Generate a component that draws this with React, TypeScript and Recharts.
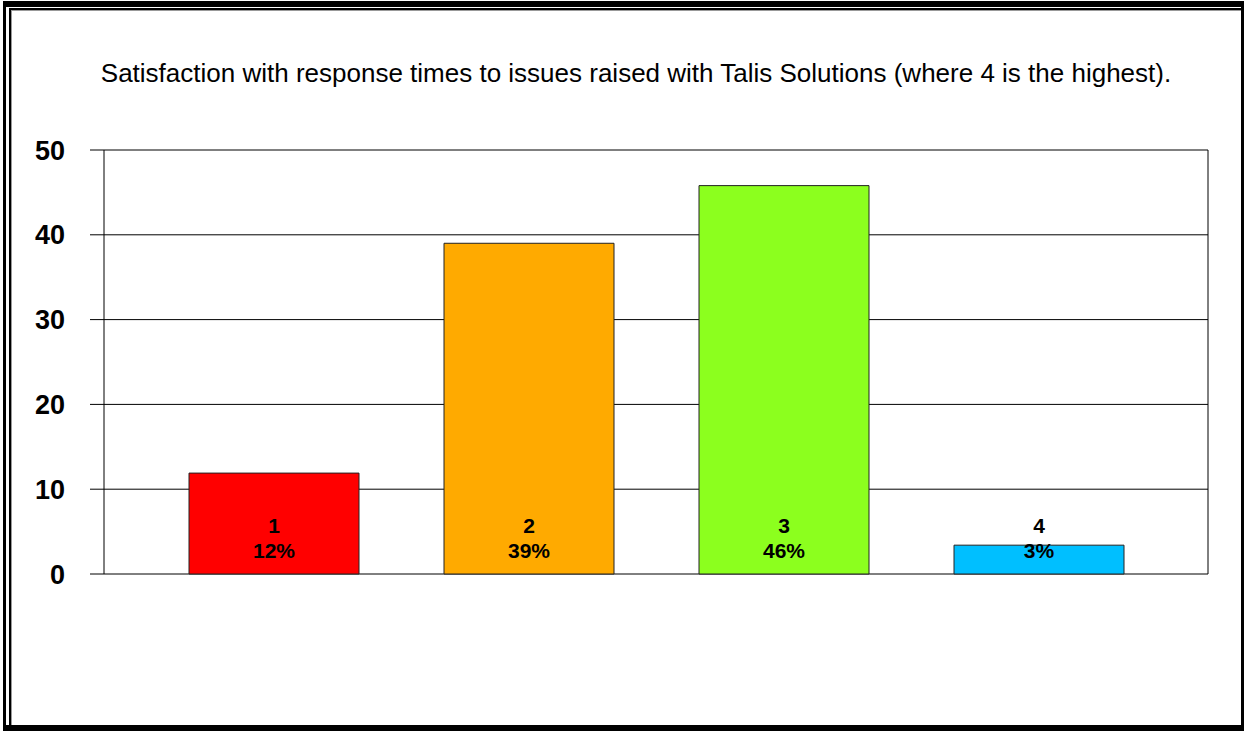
import { Bar, BarChart, CartesianGrid, Cell, LabelList, XAxis, YAxis } from "recharts";

const categories = ["1", "2", "3", "4"];
const responses = [11.9, 39, 45.8, 3.4];
const percents = ["12%", "39%", "46%", "3%"];
const barColors = ["#ff0000", "#ffaa00", "#8cff1e", "#00bfff"];
const yTicks = [0, 10, 20, 30, 40, 50];

const title =
  "Satisfaction with response times to issues raised with Talis Solutions (where 4 is the highest).";

const font = "Arial, 'Liberation Sans', sans-serif";

const data = categories.map((cat, i) => ({
  cat,
  value: responses[i],
  pct: percents[i],
}));

function BarLabel(props: any) {
  const { x, y, width, height, index } = props;
  const cx = Number(x) + Number(width) / 2;
  const bottom = Number(y) + Number(height);
  return (
    <g fontFamily={font} fontWeight={700} fontSize={21} fill="#000" textAnchor="middle">
      <text x={cx} y={bottom - 41}>
        {categories[index]}
      </text>
      <text x={cx} y={bottom - 16}>
        {percents[index]}
      </text>
    </g>
  );
}

export default function App() {
  return (
    <div
      style={{
        position: "fixed",
        left: 0,
        top: 0,
        width: 1245,
        height: 731,
        background: "#fff",
        overflow: "hidden",
      }}
    >
      {/* outer frame */}
      <div
        style={{
          position: "absolute",
          left: 3,
          top: 1,
          width: 1241,
          height: 730,
          boxSizing: "border-box",
          borderTop: "6px solid #000",
          borderBottom: "6px solid #000",
          borderLeft: "3px solid #000",
          borderRight: "3px solid #000",
        }}
      />
      <div
        style={{
          position: "absolute",
          left: 9,
          top: 8,
          width: 1232,
          height: 717,
          boxSizing: "border-box",
          borderTop: "2px solid #000",
          borderLeft: "2px solid #000",
          boxShadow: "inset 1px 1px 0 #999",
        }}
      />
      <div
        style={{
          position: "absolute",
          left: 0,
          width: 1272,
          top: 58,
          textAlign: "center",
          fontFamily: font,
          fontSize: 26,
          color: "#000",
          whiteSpace: "nowrap",
        }}
      >
        {title}
      </div>
      <div style={{ position: "absolute", left: 0, top: 0 }}>
        <BarChart
          width={1245}
          height={731}
          data={data}
          margin={{ top: 150, right: 0, bottom: 157, left: 0 }}
        >
          <CartesianGrid stroke="#000" vertical={false} />
          <XAxis
            dataKey="cat"
            height={0}
            tick={false}
            tickLine={false}
            axisLine={{ stroke: "#000" }}
            padding={{ left: 42, right: 42 }}
          />
          <YAxis
            width={104}
            domain={[0, 50]}
            ticks={yTicks}
            tickSize={14}
            tickMargin={25}
            tickLine={{ stroke: "#000" }}
            axisLine={{ stroke: "#000" }}
            tick={{ fill: "#000", fontSize: 27, fontWeight: 700, fontFamily: font }}
          />
          <YAxis
            yAxisId="r"
            orientation="right"
            width={37}
            domain={[0, 50]}
            tick={false}
            tickLine={false}
            axisLine={{ stroke: "#000" }}
          />
          <Bar dataKey="value" barSize={170} stroke="#222" isAnimationActive={false}>
            {data.map((d, i) => (
              <Cell key={d.cat} fill={barColors[i]} />
            ))}
            <LabelList dataKey="pct" content={BarLabel} />
          </Bar>
        </BarChart>
      </div>
    </div>
  );
}
